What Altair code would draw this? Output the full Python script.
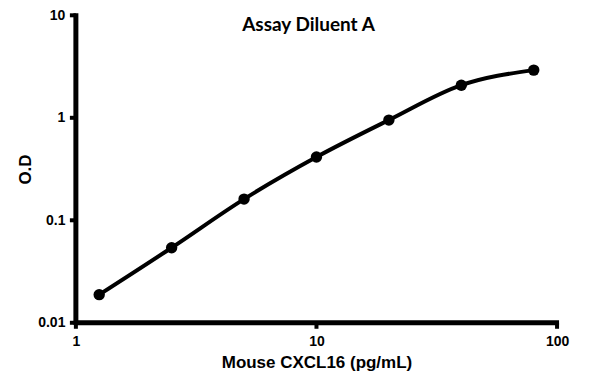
import altair as alt
import pandas as pd

conc = [1.25, 2.5, 5, 10, 20, 40, 80]
od = [0.0188, 0.054, 0.161, 0.414, 0.95, 2.08, 2.92]
x_ticks = [1, 10, 100]
y_ticks = [0.01, 0.1, 1, 10]

df = pd.DataFrame({"conc": conc, "od": od})

W, H = 482, 308

axis_style = dict(domain=False, ticks=False,
                  grid=False, labelFont="Liberation Sans", labelFontWeight="bold", labelFontSize=14,
                  labelColor="black", titleFont="Liberation Sans", titleFontWeight="bold",
                  titleFontSize=17, titleColor="black", labelFlush=False, labelOverlap=False,
                  format="~g")

xs = alt.Scale(type="log", domain=[1, 100])
ys = alt.Scale(type="log", domain=[0.01, 10])

x_enc = alt.X("conc:Q", scale=xs,
              axis=alt.Axis(values=x_ticks, title="Mouse CXCL16 (pg/mL)",
                            titlePadding=6, labelPadding=12, **axis_style))
y_enc = alt.Y("od:Q", scale=ys,
              axis=alt.Axis(values=y_ticks, title="O.D",
                            titlePadding=3, labelPadding=11, **axis_style))

line = alt.Chart(df).mark_line(color="black", interpolate="monotone").encode(
    x=x_enc, y=y_enc, strokeWidth=alt.value(4))
pts = alt.Chart(df).mark_circle(color="black", size=130, opacity=1).encode(x=x_enc, y=y_enc)

# axis lines
xdom = alt.Chart(pd.DataFrame({"a": [0]})).mark_rule(color="black", size=5).encode(
    x=alt.value(-2), x2=alt.value(W + 2), y=alt.value(H), strokeWidth=alt.value(5))
ydom = alt.Chart(pd.DataFrame({"a": [0]})).mark_rule(color="black", size=5).encode(
    x=alt.value(0), y=alt.value(-2), y2=alt.value(H + 2), strokeWidth=alt.value(5))
xtk = alt.Chart(pd.DataFrame({"v": x_ticks})).mark_rule(color="black", size=4).encode(
    x=alt.X("v:Q", scale=xs), y=alt.value(H), y2=alt.value(H + 6), strokeWidth=alt.value(4))
ytk = alt.Chart(pd.DataFrame({"v": y_ticks})).mark_rule(color="black", size=4).encode(
    y=alt.Y("v:Q", scale=ys), x=alt.value(0), x2=alt.value(-6), strokeWidth=alt.value(4))

title = alt.Chart(pd.DataFrame({"t": ["Assay Diluent A"]})).mark_text(
    font="Lato", fontWeight="bold", fontSize=19, color="black", align="center", baseline="alphabetic"
).encode(x=alt.value(233), y=alt.value(16), text="t:N")

chart = alt.layer(line, pts, xdom, ydom, xtk, ytk, title).properties(
    width=W, height=H,
    autosize=alt.AutoSizeParams(type="none"),
    padding={"left": 68, "top": 7, "right": 30, "bottom": 60},
).configure_view(stroke=None)

chart.save("out.html", embed_options={"renderer": "svg", "actions": False})
